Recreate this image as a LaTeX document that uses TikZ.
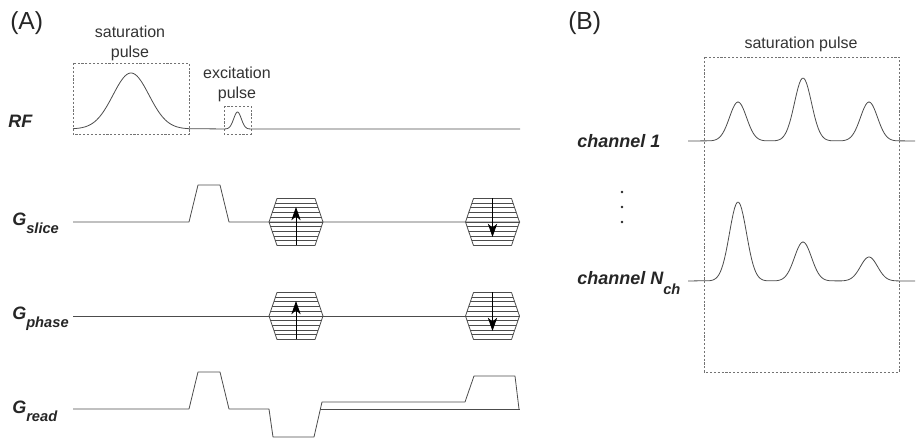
\documentclass[tikz,border=0pt]{standalone}
\usepackage{fontspec}
\setmainfont{Liberation Sans}
\usetikzlibrary{positioning, arrows.meta}
\tikzset{
    wave/.style = {draw=black!70, line width=0.6pt, line join=round},
    pulse box/.style = {draw=black!55, line width=0.6pt, dash pattern=on 1.6pt off 1.3pt},
    tbl arrow/.style = {draw=black, line width=0.6pt, -{Stealth[length=10pt, width=7pt, inset=3pt]}},
    chan label/.style = {inner sep=0pt, text=black!85, font=\fontsize{13.5}{15}\selectfont\bfseries\itshape},
    note/.style = {inner sep=0pt, text=black!80, align=center, font=\fontsize{12}{15}\selectfont},
    panel/.style = {inner sep=0pt, text=black!85, font=\fontsize{18.5}{20}\selectfont},
    declare function = {gauss(\x,\c,\a,\s) = \a*exp(-0.5*((\x-\c)/\s)^2);},
}
\newcommand{\glsub}[2][6pt]{\raisebox{-#1}{\fontsize{11}{11}\selectfont #2}}
% phase encoding table: x, y, direction (1 up, -1 down)
\newcommand{\phtable}[3]{%
    \draw[wave] (#1-27,#2) -- (#1-19,#2-23.5) -- (#1+19,#2-23.5) -- (#1+27,#2)
        -- (#1+19,#2+23.5) -- (#1-19,#2+23.5) -- cycle;
    \foreach \k in {-4,...,4}
        \draw[wave] ({#1-19-8*(1-abs(\k)/5)},{#2+4.7*\k}) -- ({#1+19+8*(1-abs(\k)/5)},{#2+4.7*\k});
    \draw[tbl arrow] (#1,{#2+23.5*#3}) -- (#1,{#2-15*#3});
}

\begin{document}
\begin{tikzpicture}[x=0.75pt, y=-0.75pt]
    \useasboundingbox (0,0) rectangle (918,441);

    % (A) sequence
    \node[panel, anchor=base west] (pa) at (10,30) {(A)};
    \node[chan label, anchor=base west] (rf) at (8,128) {RF};
    \node[chan label, anchor=base west] (gs) at (12,226) {G\glsub{slice}};
    \node[chan label, anchor=base west] (gp) at (12,320) {G\glsub{phase}};
    \node[chan label, anchor=base west] (gr) at (12,414) {G\glsub{read}};

    \node[note] (satA) at (130,43) {saturation\\pulse};
    \node[note] (exc) at (237,84) {excitation\\pulse};
    \draw[pulse box] (73,63) rectangle (189,134);
    \draw[pulse box] (224,106) rectangle (251,134);

    \draw[wave] plot[domain=73:189, samples=70] (\x,{129-gauss(\x,131,56,18)})
        -- plot[domain=224:251, samples=30] (\x,{129-gauss(\x,237.5,17,3.8)}) -- (520,129);

    \draw[wave] (73,222) -- (189,222) -- (198,185) -- (220,185) -- (229,222) -- (520,222);
    \phtable{296}{222}{1}
    \phtable{492.5}{222}{-1}

    \draw[wave] (73,316) -- (520,316);
    \phtable{296}{316}{1}
    \phtable{492.5}{316}{-1}

    \draw[wave] (73,409) -- (189,409) -- (198,372) -- (220,372) -- (229,409) -- (269,409)
        -- (273,437) -- (314,437) -- (322,402) -- (465,402) -- (474,376) -- (515,376) -- (519,409);
    \draw[wave] (320.4,409) -- (520,409);

    % (B) multi-channel saturation
    \node[panel, anchor=base west] (pb) at (568,30) {(B)};
    \node[note] (satB) at (801,44) {saturation pulse};
    \draw[pulse box] (704,57) rectangle (899,372);

    \node[chan label, anchor=base west] (ch1) at (577,148) {channel 1};
    \node[chan label, anchor=base west] (chn) at (577,285) {channel N\glsub[7.5pt]{ch}};
    \foreach \yy in {192,207,222}
        \fill[black!85] (622,\yy) circle (1.4);

    \draw[wave] (688,141) -- plot[domain=710:766, samples=40] (\x,{141-gauss(\x,738,39,8.5)})
        -- plot[domain=775:831, samples=40] (\x,{141-gauss(\x,803,63,8.5)})
        -- plot[domain=841:897, samples=40] (\x,{141-gauss(\x,869,39,8.5)}) -- (915,141);
    \draw[wave] (688,281) -- plot[domain=710:766, samples=40] (\x,{281-gauss(\x,738,79,8.5)})
        -- plot[domain=775:831, samples=40] (\x,{281-gauss(\x,803,39,8.5)})
        -- plot[domain=841:897, samples=40] (\x,{281-gauss(\x,869,24,8.5)}) -- (915,281);
\end{tikzpicture}
\end{document}
